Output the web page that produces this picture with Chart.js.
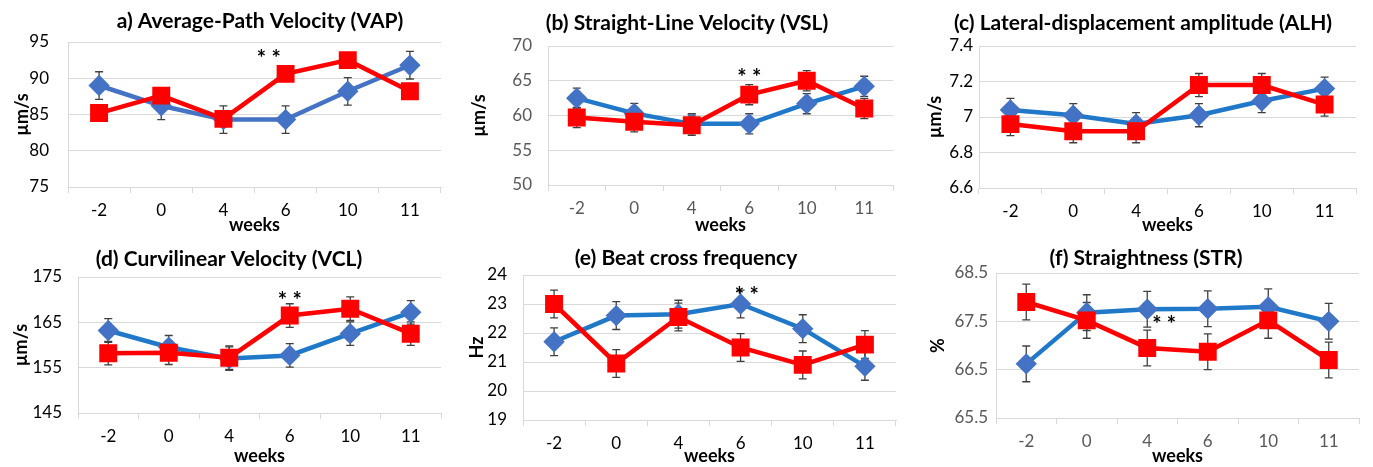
<!DOCTYPE html>
<html>
<head>
<meta charset="utf-8">
<script src="https://cdn.jsdelivr.net/npm/chart.js@4"></script>
<style>
  body { margin: 0; background: #fff; width: 1373px; height: 467px; position: relative; overflow: hidden; }
  canvas { position: absolute; }
</style>
</head>
<body>
<canvas id="c1" width="455" height="236" style="left:0;top:0"></canvas>
<canvas id="c2" width="455" height="236" style="left:455px;top:0"></canvas>
<canvas id="c3" width="463" height="236" style="left:910px;top:0"></canvas>
<canvas id="c4" width="455" height="237" style="left:0;top:230px"></canvas>
<canvas id="c5" width="455" height="237" style="left:455px;top:230px"></canvas>
<canvas id="c6" width="463" height="237" style="left:910px;top:230px"></canvas>
<script>
// categories
const weeks = ['-2', '0', '4', '6', '10', '11'];

// a) VAP
const vapTicks = [75, 80, 85, 90, 95];
const vapBlue = [89.0, 86.2, 84.3, 84.3, 88.2, 91.8];
const vapBlueErr = [1.9, 1.9, 1.9, 1.9, 1.9, 1.9];
const vapRed = [85.2, 87.6, 84.4, 90.6, 92.5, 88.2];
const vapRedErr = [null, null, null, null, null, null];

// b) VSL
const vslTicks = [50, 55, 60, 65, 70];
const vslBlue = [62.5, 60.3, 58.8, 58.8, 61.7, 64.2];
const vslBlueErr = [1.45, 1.45, 1.45, 1.45, 1.45, 1.45];
const vslRed = [59.7, 59.1, 58.6, 63.0, 65.0, 61.0];
const vslRedErr = [1.45, 1.45, 1.45, 1.45, 1.45, 1.45];

// c) ALH
const alhTicks = [6.6, 6.8, 7, 7.2, 7.4];
const alhBlue = [7.04, 7.01, 6.96, 7.01, 7.09, 7.16];
const alhBlueErr = [0.065, 0.065, 0.065, 0.065, 0.065, 0.065];
const alhRed = [6.96, 6.92, 6.92, 7.18, 7.18, 7.07];
const alhRedErr = [0.065, 0.065, 0.065, 0.065, 0.065, 0.065];

// d) VCL
const vclTicks = [145, 155, 165, 175];
const vclBlue = [163.2, 159.5, 157.0, 157.7, 162.5, 167.2];
const vclBlueErr = [2.6, 2.6, 2.6, 2.6, 2.6, 2.6];
const vclRed = [158.2, 158.3, 157.2, 166.5, 168.0, 162.5];
const vclRedErr = [2.6, 2.6, 2.6, 2.6, 2.6, 2.6];

// e) BCF
const bcfTicks = [19, 20, 21, 22, 23, 24];
const bcfBlue = [21.7, 22.6, 22.65, 23.0, 22.15, 20.85];
const bcfBlueErr = [0.48, 0.48, 0.48, 0.48, 0.48, 0.48];
const bcfRed = [23.0, 20.95, 22.55, 21.5, 20.9, 21.6];
const bcfRedErr = [0.48, 0.48, 0.48, 0.48, 0.48, 0.48];

// f) STR
const strTicks = [65.5, 66.5, 67.5, 68.5];
const strBlue = [66.62, 67.68, 67.75, 67.76, 67.8, 67.5];
const strBlueErr = [0.37, 0.37, 0.37, 0.37, 0.37, 0.37];
const strRed = [67.9, 67.52, 66.95, 66.87, 67.52, 66.7];
const strRedErr = [0.37, 0.37, 0.37, 0.37, 0.37, 0.37];

// "**" marks: [category index, value]
const vapStar = [2.73, 93.5];
const vslStar = [3.0, 66.3];
const vclStar = [3.0, 171.0];
const bcfStar = [3.1, 23.48];
const strStar = [2.28, 67.55];

const FONT = 'Lato, "Open Sans", sans-serif';

// error bars, drawn under the lines/markers
const errorBars = {
  id: 'errorBars',
  beforeDatasetsDraw(chart) {
    const ctx = chart.ctx, x = chart.scales.x, y = chart.scales.y;
    ctx.save();
    ctx.strokeStyle = '#404040';
    ctx.lineWidth = 1.3;
    chart.data.datasets.forEach(ds => {
      if (!ds.err) return;
      ds.data.forEach((v, i) => {
        const e = ds.err[i];
        if (e == null) return;
        const px = x.getPixelForValue(i);
        const top = y.getPixelForValue(v + e), bot = y.getPixelForValue(v - e);
        ctx.beginPath();
        ctx.moveTo(px, top); ctx.lineTo(px, bot);
        ctx.moveTo(px - 4, top); ctx.lineTo(px + 4, top);
        ctx.moveTo(px - 4, bot); ctx.lineTo(px + 4, bot);
        ctx.stroke();
      });
    });
    ctx.restore();
  }
};

// panel title and significance stars
const extras = {
  id: 'extras',
  afterDraw(chart, args, opts) {
    const ctx = chart.ctx;
    ctx.save();
    ctx.fillStyle = '#000';
    ctx.textAlign = 'center';
    ctx.textBaseline = 'middle';
    ctx.font = 'bold 21px ' + FONT;
    ctx.fillText(opts.title, opts.titleX, opts.titleY);
    if (opts.star) {
      ctx.font = 'bold 22px ' + FONT;
      // asterisks sit high in the em box, nudge down so they centre on the value
      ctx.fillText('* *', chart.scales.x.getPixelForValue(opts.star[0]), chart.scales.y.getPixelForValue(opts.star[1]) + 6);
    }
    ctx.restore();
  }
};

function makeChart(p) {
  return new Chart(document.getElementById(p.id), {
    type: 'line',
    data: {
      labels: weeks,
      datasets: [{
        data: p.blue,
        err: p.blueErr,
        borderColor: p.blueLine,
        backgroundColor: '#4472C4',
        pointBackgroundColor: '#4472C4',
        pointBorderColor: '#4472C4',
        pointStyle: 'rectRot',
        pointRadius: 7.5,
        borderWidth: 4.5,
        tension: 0,
        order: 1
      }, {
        data: p.red,
        err: p.redErr,
        borderColor: '#FF0000',
        backgroundColor: '#FF0000',
        pointBackgroundColor: '#FF0000',
        pointBorderColor: '#FF0000',
        pointStyle: 'rect',
        pointRadius: 9.5,
        borderWidth: 4.5,
        tension: 0,
        order: 0
      }]
    },
    options: {
      responsive: false,
      animation: false,
      layout: { padding: { top: p.padT, right: p.padR, left: 0, bottom: 0 } },
      plugins: {
        legend: { display: false },
        tooltip: { enabled: false },
        extras: { title: p.title, titleX: p.titleX, titleY: p.titleY, star: p.star }
      },
      scales: {
        x: {
          offset: true,
          grid: { offset: true, drawOnChartArea: false, drawTicks: true, tickLength: 6, color: '#d9d9d9' },
          border: { display: true, color: '#d9d9d9', width: 1 },
          ticks: { color: p.tickColor, padding: 7, font: { family: FONT, size: 17 } },
          title: { display: true, text: 'weeks', color: '#000', padding: 0, font: { family: FONT, size: 18, weight: 'bold' } },
          afterFit(s) { s.height = p.xH; }
        },
        y: {
          min: p.yTicks[0],
          max: p.yTicks[p.yTicks.length - 1],
          afterBuildTicks(s) { s.ticks = p.yTicks.map(v => ({ value: v })); },
          grid: { color: '#d9d9d9', drawTicks: false, lineWidth: 1 },
          border: { display: true, color: '#d9d9d9', width: 1 },
          ticks: {
            color: p.tickColor, padding: p.tickPad, font: { family: FONT, size: 17 },
            callback: v => String(+v.toFixed(2))   // "7" not "7.0"
          },
          title: { display: true, text: p.yTitle, color: '#000', padding: { top: p.yTitlePad, bottom: 0 }, font: { family: FONT, size: 18, weight: 'bold' } },
          afterFit(s) { s.width = p.yW; }
        }
      }
    },
    plugins: [errorBars, extras]
  });
}

makeChart({ id: 'c1', title: 'a) Average-Path Velocity (VAP)', titleX: 260, titleY: 21, yTitle: 'µm/s',
  yTicks: vapTicks, blue: vapBlue, blueErr: vapBlueErr, red: vapRed, redErr: vapRedErr, star: vapStar,
  blueLine: '#4472C4', tickColor: '#000', yW: 68, padR: 12, padT: 42, xH: 49, tickPad: 19, yTitlePad: 11 });
makeChart({ id: 'c2', title: '(b) Straight-Line Velocity (VSL)', titleX: 232, titleY: 23, yTitle: 'µm/s',
  yTicks: vslTicks, blue: vslBlue, blueErr: vslBlueErr, red: vslRed, redErr: vslRedErr, star: vslStar,
  blueLine: '#1F78C8', tickColor: '#595959', yW: 93, padR: 17, padT: 46, xH: 51, tickPad: 16, yTitlePad: 13 });
makeChart({ id: 'c3', title: '(c) Lateral-displacement amplitude (ALH)', titleX: 233, titleY: 23, yTitle: 'µm/s',
  yTicks: alhTicks, blue: alhBlue, blueErr: alhBlueErr, red: alhRed, redErr: alhRedErr, star: null,
  blueLine: '#1F78C8', tickColor: '#000', yW: 69, padR: 17, padT: 46, xH: 48, tickPad: 6, yTitlePad: 14 });
makeChart({ id: 'c4', title: '(d) Curvilinear Velocity (VCL)', titleX: 229, titleY: 29, yTitle: 'µm/s',
  yTicks: vclTicks, blue: vclBlue, blueErr: vclBlueErr, red: vclRed, redErr: vclRedErr, star: vclStar,
  blueLine: '#1F78C8', tickColor: '#000', yW: 78, padR: 4, padT: 47, xH: 54, tickPad: 16, yTitlePad: 10 });
makeChart({ id: 'c5', title: '(e) Beat cross frequency', titleX: 231, titleY: 28, yTitle: 'Hz',
  yTicks: bcfTicks, blue: bcfBlue, blueErr: bcfBlueErr, red: bcfRed, redErr: bcfRedErr, star: bcfStar,
  blueLine: '#1F78C8', tickColor: '#000', yW: 68, padR: 13, padT: 45, xH: 47, tickPad: 16, yTitlePad: 11 });
makeChart({ id: 'c6', title: '(f) Straightness (STR)', titleX: 236, titleY: 28, yTitle: '%',
  yTicks: strTicks, blue: strBlue, blueErr: strBlueErr, red: strRed, redErr: strRedErr, star: strStar,
  blueLine: '#1F78C8', tickColor: '#595959', yW: 86, padR: 7, padT: 43, xH: 49, tickPad: 8, yTitlePad: 17 });
</script>
</body>
</html>
